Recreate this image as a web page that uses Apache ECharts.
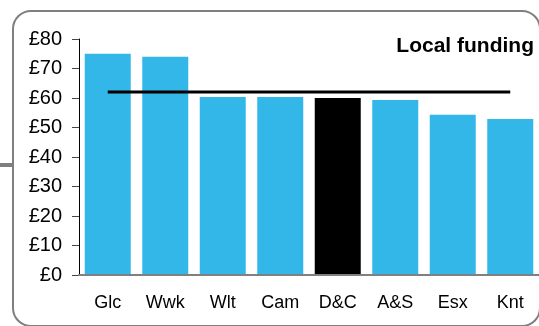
<!DOCTYPE html>
<html>
<head>
<meta charset="utf-8">
<script src="https://cdn.jsdelivr.net/npm/echarts@6/dist/echarts.min.js"></script>
<style>
html,body{margin:0;padding:0;background:#fff;}
#c{width:539px;height:326px;}
</style>
</head>
<body>
<div id="c"></div>
<script>
var categories = ['Glc', 'Wwk', 'Wlt', 'Cam', 'D&C', 'A&S', 'Esx', 'Knt'];
var fundingValues = [75, 74, 60.3, 60.3, 60, 59.3, 54.3, 52.9];
var averageValues = [62, 62, 62, 62, 62, 62, 62, 62];
var highlightCategory = 'D&C';
var titleText = 'Local funding';

var chart = echarts.init(document.getElementById('c'), null, {renderer: 'canvas'});
var barData = fundingValues.map(function (v, i) {
  return categories[i] === highlightCategory ? {value: v, itemStyle: {color: '#000000'}} : v;
});
chart.setOption({
  animation: false,
  backgroundColor: '#ffffff',
  textStyle: {fontFamily: 'Liberation Sans, Arial, sans-serif'},
  title: {
    text: titleText,
    right: 5,
    top: 36,
    padding: 0,
    textStyle: {fontSize: 21, fontWeight: 'bold', color: '#000', fontFamily: 'Liberation Sans, Arial, sans-serif'}
  },
  graphic: [
    {type: 'rect', shape: {x: 13, y: 11, width: 527, height: 315, r: 18}, style: {fill: 'none', stroke: '#7f7f7f', lineWidth: 2}, z: 100},
    {type: 'rect', shape: {x: 0, y: 163, width: 12, height: 4}, style: {fill: '#7f7f7f'}, z: 100}
  ],
  grid: {left: 79, right: -2, top: 39, bottom: 51, containLabel: false},
  xAxis: {
    type: 'category',
    data: categories,
    z: 5,
    axisLine: {show: true, lineStyle: {color: '#808080', width: 2}},
    axisTick: {show: false},
    axisLabel: {color: '#000', fontSize: 18, margin: 19, fontFamily: 'Liberation Sans, Arial, sans-serif'},
    splitLine: {show: false}
  },
  yAxis: {
    type: 'value',
    min: 0,
    max: 80,
    interval: 10,
    axisLine: {show: true, lineStyle: {color: '#000', width: 1}},
    axisTick: {show: true, length: 7, lineStyle: {color: '#444'}},
    axisLabel: {color: '#000', fontSize: 20, margin: 17, formatter: '£{value}', fontFamily: 'Liberation Sans, Arial, sans-serif'},
    splitLine: {show: false}
  },
  series: [
    {
      type: 'bar',
      data: barData,
      barCategoryGap: '20%',
      itemStyle: {color: '#33b7e8'},
      z: 2
    },
    {
      type: 'line',
      data: averageValues,
      symbol: 'none',
      lineStyle: {color: '#000', width: 3},
      z: 4
    }
  ]
});
</script>
</body>
</html>
